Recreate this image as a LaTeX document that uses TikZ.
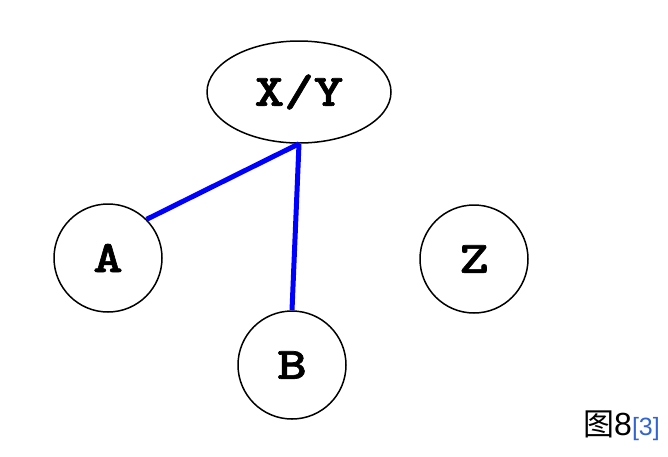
\documentclass[tikz,border=0pt]{standalone}
\usepackage{fontspec}
\setsansfont{Liberation Sans}
\newfontfamily\cjk{Noto Sans CJK SC}
\newfontfamily\courb{lmmonolt10-bold}[Extension=.otf, FakeStretch=1.25, FakeBold=1.5]
\usetikzlibrary{shapes.geometric}
\definecolor{linkblue}{HTML}{3366CC}
\begin{document}
\begin{tikzpicture}[x=1pt,y=-1pt,
  lbl/.style={font=\courb\fontsize{45}{45}\selectfont},
  vertex/.style={circle, draw, line width=1.5pt, minimum size=108pt, inner sep=0pt, lbl},
  topnode/.style={ellipse, draw, line width=1.5pt, minimum width=184pt, minimum height=102pt, inner sep=0pt, lbl},
  edge/.style={draw=blue, line width=5pt}]
\useasboundingbox (0,0) rectangle (668,456);
\node[topnode] (XY) at (299,92) {X/Y};
\node[vertex] (A) at (108,258) {A};
\node[vertex] (Z) at (474,259) {Z};
\node[vertex] (B) at (292,365) {B};
\draw[edge] (XY.south) -- (A.45);
\draw[edge] (XY.south) -- (B.north);
\node[anchor=base west, inner sep=0pt] (cap) at (583,435)
  {{\cjk\fontsize{31}{31}\selectfont 图}{\sffamily\fontsize{32}{32}\selectfont 8}{\sffamily\fontsize{25}{25}\selectfont\color{linkblue}[3]}};
\end{tikzpicture}
\end{document}
